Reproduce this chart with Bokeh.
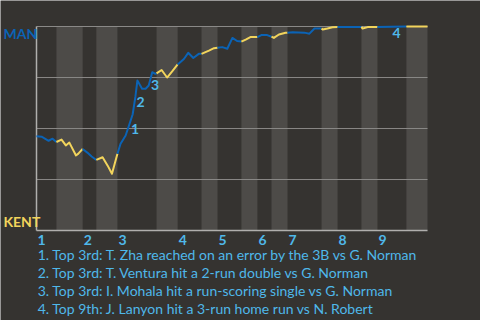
from bokeh.plotting import figure
from bokeh.models import Range1d
from bokeh.core.properties import value
from bokeh.embed import file_html
from bokeh.resources import INLINE
import numpy as np

# ---- data (x = game progress in %, y = MAN win probability) ----
half_bounds = [0, 5.1, 11.8, 15.3, 20.7, 30.7, 36.1, 42.2, 46.3, 52.4, 56.5,
               60.1, 64.2, 72.9, 77.0, 83.1, 87.2, 94.6, 100]
inning_labels = ["1", "2", "3", "4", "5", "6", "7", "8", "9"]

wp_x = [0, 1.3, 3.1, 4.1, 5.1,
        6.4, 7.5, 8.4, 10.1, 10.7, 11.8,
        13.0, 14.1, 15.3,
        16.9, 18.2, 19.3, 20.7,
        21.5, 22.8, 23.9, 24.6, 25.3, 25.8, 27.0, 27.9, 28.7, 29.6, 30.4, 30.7,
        32.0, 33.4, 34.7, 36.0,
        37.7, 38.8, 40.1, 41.5, 42.2,
        44.1, 45.4, 46.3,
        47.5, 48.8, 50.1, 51.3, 52.4,
        53.5, 54.7, 56.5,
        57.5, 59.0, 60.1,
        60.7, 62.0, 63.7, 64.2,
        65.5, 68.5, 69.8, 71.1, 72.9,
        73.2, 74.4, 75.7, 77.0,
        83.1,
        83.4, 84.7, 87.2,
        90.8, 94.6,
        100]
wp_y = [0.462, 0.460, 0.440, 0.450, 0.434,
        0.446, 0.417, 0.431, 0.368, 0.377, 0.400,
        0.382, 0.363, 0.346,
        0.359, 0.318, 0.278, 0.376,
        0.425, 0.466, 0.529, 0.570, 0.657, 0.735, 0.695, 0.695, 0.711, 0.776, 0.768, 0.770,
        0.787, 0.750, 0.780, 0.812,
        0.841, 0.871, 0.846, 0.866, 0.866,
        0.882, 0.894, 0.896,
        0.899, 0.891, 0.944, 0.929, 0.926,
        0.936, 0.948, 0.948,
        0.958, 0.958, 0.950,
        0.944, 0.961, 0.969, 0.969,
        0.972, 0.970, 0.965, 0.990, 0.990,
        0.985, 0.990, 0.996, 0.998,
        0.998,
        0.990, 0.997, 0.998,
        0.999, 1.000,
        1.000]

event_x = [23.9, 25.3, 29.0, 90.8]
event_y = [0.529, 0.657, 0.745, 0.999]
event_labels = ["1", "2", "3", "4"]

notes = ["1. Top 3rd: T. Zha reached on an error by the 3B vs G. Norman",
         "2. Top 3rd: T. Ventura hit a 2-run double vs G. Norman",
         "3. Top 3rd: I. Mohala hit a run-scoring single vs G. Norman",
         "4. Top 9th: J. Lanyon hit a 3-run home run vs N. Robert"]

grid_levels = [0.25, 0.5, 0.75, 1.0]
teams = ["MAN", "KENT"]

# ---- style ----
BG = "#353330"
BAND = "#4d4b48"
GRID = "#8a8987"
AXIS = "#b0afad"
BLUE = "#0b63b5"
YELLOW = "#f2d45c"
LIGHT = "#4fb8ea"
FONT = value("Lato")

p = figure(width=480, height=320, output_backend="svg", toolbar_location=None,
           x_range=Range1d(-9.207, 113.55), y_range=Range1d(-0.441, 1.1275),
           x_axis_type=None, y_axis_type=None, min_border=0)
p.outline_line_color = None
p.background_fill_color = BG
p.border_fill_color = BG

# bands for bottom halves
b_left = half_bounds[1::2]
b_right = half_bounds[2::2]
p.quad(left=b_left, right=b_right, bottom=0, top=1, fill_color=BAND, line_color=None)

# grid lines
p.segment(x0=[half_bounds[0]] * len(grid_levels), x1=[half_bounds[-1]] * len(grid_levels),
          y0=grid_levels, y1=grid_levels, line_color=GRID, line_width=1)
# axes lines
p.segment(x0=[0, 0], y0=[0, 0], x1=[0, 100], y1=[1, 0], line_color=AXIS, line_width=1.5)

# win probability line, split per half inning
xs, ys, cols = [], [], []
wx = np.array(wp_x); wy = np.array(wp_y)
for i in range(len(half_bounds) - 1):
    a, b = half_bounds[i], half_bounds[i + 1]
    m = (wx > a) & (wx < b)
    sx = [a] + list(wx[m]) + [b]
    sy = [float(np.interp(a, wx, wy))] + list(wy[m]) + [float(np.interp(b, wx, wy))]
    xs.append(sx); ys.append(sy)
    cols.append(BLUE if i % 2 == 0 else YELLOW)
p.multi_line(xs=xs, ys=ys, line_color=cols, line_width=2, line_join="round")

# event labels
p.text(x=event_x, y=event_y, text=event_labels, text_font=FONT, text_font_style="bold",
       text_font_size="14px", text_color=LIGHT, text_align="left", text_baseline="top",
       x_offset=1, y_offset=1)

# inning labels
p.text(x=half_bounds[0:-1:2], y=[-0.044] * 9, text=inning_labels, text_font=FONT,
       text_font_style="bold", text_font_size="14px", text_color=LIGHT,
       text_align="left", text_baseline="middle", x_offset=1)

# team labels
p.text(x=[-8.45, -8.45], y=[0.966, 0.046], text=teams, text_font=FONT,
       text_font_style="bold", text_font_size="14px", text_color=[BLUE, YELLOW],
       text_align="left", text_baseline="middle")

# notes
p.text(x=[0.3] * len(notes), y=[-0.119 - 0.0873 * i for i in range(len(notes))], text=notes,
       text_font=FONT, text_font_size="14px", text_color=LIGHT,
       text_align="left", text_baseline="middle")

open("out.html", "w").write(file_html(p, INLINE))
